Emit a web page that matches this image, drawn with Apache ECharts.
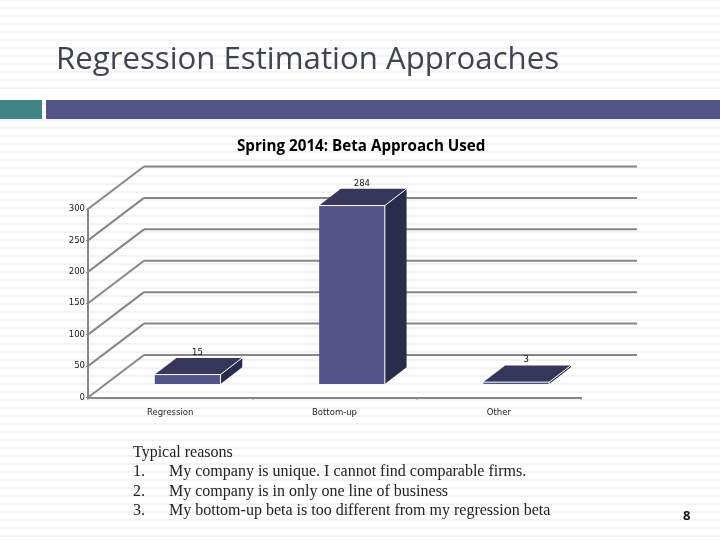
<!DOCTYPE html>
<html><head><meta charset="utf-8">
<style>
html,body{margin:0;padding:0;width:720px;height:540px;overflow:hidden;background-color:#fff;}
body{background-image:linear-gradient(to bottom,#fff 0,#fff 6px,#f2f2f2 6px,#f2f2f2 8px);background-size:100% 8px;background-position:0 1px;background-repeat:repeat;}
#c{width:720px;height:540px;}
</style>
<script src="https://cdn.jsdelivr.net/npm/echarts@6/dist/echarts.min.js"></script>
</head><body><div id="c"></div>
<script>
const categories=['Regression','Bottom-up','Other'];
const values=[15,284,3];
const yTicks=[0,50,100,150,200,250,300];
const slideTitle='Regression Estimation Approaches';
const chartTitle='Spring 2014: Beta Approach Used';
const notesHead='Typical reasons';
const noteNums=['1.','2.','3.'];
const noteTexts=['My company is unique. I cannot find comparable firms.','My company is in only one line of business','My bottom-up beta is too different from my regression beta'];
const pageNo='8';

const GRID='#868686',FRONT='#53548a',TOP='#37375c',SIDE='#2b2b4b';
const wallDx=56,wallDy=-42.5,barDx=21.7,barDy=-16.7,midDx=17.5,midDy=-13.5;

function wallItem(params,api){
  const cs=params.coordSys;
  const p=api.coord([0,api.value(0)]);
  const y=p[1],x0=cs.x,x1=cs.x+cs.width;
  const st={stroke:GRID,lineWidth:2};
  return {type:'group',children:[
    {type:'line',shape:{x1:x0,y1:y,x2:x0+wallDx,y2:y+wallDy},style:st},
    {type:'line',shape:{x1:x0+wallDx,y1:y+wallDy,x2:x1+wallDx,y2:y+wallDy},style:st}
  ]};
}
function barItem(params,api){
  const idx=api.value(0),val=api.value(1);
  const t=api.coord([idx,val]),b=api.coord([idx,0]);
  const w=api.size([1,0])[0]*0.4;
  const xl=t[0]-w/2+midDx,xr=xl+w,yt=t[1]+midDy,yb=b[1]+midDy;
  const edge={stroke:'#fff',lineWidth:1};
  return {type:'group',children:[
    {type:'polygon',shape:{points:[[xr,yt],[xr+barDx,yt+barDy],[xr+barDx,yb+barDy],[xr,yb]]},style:{fill:SIDE}},
    {type:'polygon',shape:{points:[[xl,yt],[xl+barDx,yt+barDy],[xr+barDx,yt+barDy],[xr,yt]]},style:{fill:TOP}},
    {type:'rect',shape:{x:xl,y:yt,width:w,height:yb-yt},style:{fill:FRONT}},
    {type:'line',shape:{x1:xl,y1:yt,x2:xr,y2:yt},style:edge},
    {type:'line',shape:{x1:xr,y1:yt,x2:xr,y2:yb},style:edge},
    {type:'line',shape:{x1:xr,y1:yt,x2:xr+barDx,y2:yt+barDy},style:edge},
    {type:'text',x:(xl+xr)/2+barDx/2-1,y:yt+barDy-5.5,style:{text:String(val),fill:'#111',font:'8.5px "DejaVu Sans"',align:'center',verticalAlign:'middle'}}
  ]};
}
const serif='16px "Liberation Serif"';
const noteColor='#222';
const texts=[
 {type:'text',left:56,top:44.5,style:{text:slideTitle,fill:'#404350',font:'31.2px "Open Sans"'}},
 {type:'text',left:237,top:139,style:{text:chartTitle,fill:'#000',font:'bold 15.2px "Open Sans"'}},
 {type:'text',left:133,top:445,style:{text:notesHead,fill:noteColor,font:serif}},
 {type:'text',left:683,top:510,style:{text:pageNo,fill:'#111',font:'bold 13px "Open Sans"'}}
];
noteNums.forEach((n,i)=>{
  texts.push({type:'text',left:133,top:464+i*19.3,style:{text:n,fill:noteColor,font:serif}});
  texts.push({type:'text',left:169,top:464+i*19.3,style:{text:noteTexts[i],fill:noteColor,font:serif}});
});
const chart=echarts.init(document.getElementById('c'),null,{renderer:'canvas'});
chart.setOption({
  backgroundColor:'transparent',animation:false,
  grid:{left:88,right:139,top:209,bottom:142.5,containLabel:false},
  xAxis:{type:'category',data:categories,
    axisLine:{lineStyle:{color:GRID,width:2}},
    axisTick:{show:true,length:2,lineStyle:{color:GRID,width:1.5}},
    axisLabel:{color:'#222',fontSize:8.5,fontFamily:'DejaVu Sans',margin:11},splitLine:{show:false}},
  yAxis:{type:'value',min:0,max:300,interval:50,
    axisLine:{show:true,lineStyle:{color:GRID,width:2}},
    axisTick:{show:true,length:2,lineStyle:{color:GRID}},
    axisLabel:{color:'#222',fontSize:8.5,fontFamily:'DejaVu Sans',margin:3,padding:[2,0,0,0]},splitLine:{show:false}},
  series:[
    {type:'custom',coordinateSystem:'cartesian2d',renderItem:wallItem,data:yTicks.map(v=>[v]),encode:{y:0},silent:true,z:1},
    {type:'custom',coordinateSystem:'cartesian2d',renderItem:barItem,data:values.map((v,i)=>[i,v]),encode:{x:0,y:1},silent:true,z:3}
  ],
  graphic:[
    {type:'rect',left:0,top:92,shape:{width:720,height:8},style:{fill:'#fff'}},
    {type:'rect',left:0,top:100,shape:{width:42,height:19},style:{fill:'#3f8585'}},
    {type:'rect',left:46,top:100,shape:{width:674,height:19},style:{fill:FRONT}},
    ...texts
  ]
});
</script></body></html>
